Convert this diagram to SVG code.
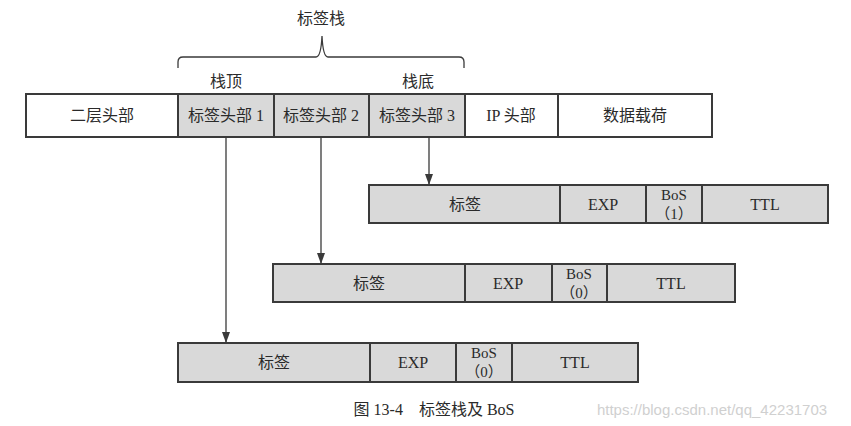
<svg xmlns="http://www.w3.org/2000/svg" width="851" height="426" viewBox="0 0 851 426">
<defs>
<style>
.box{stroke:#3a3a3a;stroke-width:2;}
.w{fill:#ffffff;}
.g{fill:#d9d9d9;}
text{font-family:"Liberation Serif","Noto Sans CJK SC",serif;font-size:16px;fill:#2a2a2a;text-anchor:middle;}
.sm{font-size:15px;}
.ln{stroke:#3a3a3a;stroke-width:1.3;fill:none;}
</style>
<marker id="ah" markerWidth="11" markerHeight="8" refX="10" refY="4" orient="auto" markerUnits="userSpaceOnUse">
<path d="M0,0 L11,4 L0,8 Z" fill="#3a3a3a"/>
</marker>
</defs>
<rect width="851" height="426" fill="#ffffff"/>

<g id="stack-label">
<text x="321" y="24">标签栈</text>
<path class="ln" d="M178,68 V62 Q178,57 183,57 H316 Q321,57 322,36 Q323,57 328,57 H459 Q464,57 464,62 V68"/>
<text x="226" y="87">栈顶</text>
<text x="418" y="87">栈底</text>
</g>

<g id="packet">
<rect class="box w" x="26" y="94" width="152" height="43"/>
<text x="102" y="121">二层头部</text>
<rect class="box g" x="178" y="94" width="96" height="43"/>
<text x="226" y="121">标签头部 1</text>
<rect class="box g" x="274" y="94" width="95" height="43"/>
<text x="321" y="121">标签头部 2</text>
<rect class="box g" x="369" y="94" width="96" height="43"/>
<text x="417" y="121">标签头部 3</text>
<rect class="box w" x="465" y="94" width="93" height="43"/>
<text x="511" y="121">IP 头部</text>
<rect class="box w" x="558" y="94" width="154" height="43"/>
<text x="635" y="121">数据载荷</text>
</g>

<g id="connectors">
<line class="ln" x1="429" y1="137" x2="429" y2="184" marker-end="url(#ah)"/>
<line class="ln" x1="321" y1="137" x2="321" y2="263" marker-end="url(#ah)"/>
<line class="ln" x1="226" y1="137" x2="226" y2="342" marker-end="url(#ah)"/>
</g>

<g id="label3">
<rect class="box g" x="369" y="185" width="191" height="38"/>
<text x="465" y="210">标签</text>
<rect class="box g" x="560" y="185" width="86" height="38"/>
<text x="603" y="210">EXP</text>
<rect class="box g" x="646" y="185" width="56" height="38"/>
<text x="674" y="200" class="sm">BoS</text>
<text x="674" y="219" class="sm">（1）</text>
<rect class="box g" x="702" y="185" width="126" height="38"/>
<text x="765" y="210">TTL</text>
</g>

<g id="label2">
<rect class="box g" x="273" y="264" width="192" height="38"/>
<text x="369" y="289">标签</text>
<rect class="box g" x="465" y="264" width="87" height="38"/>
<text x="508" y="289">EXP</text>
<rect class="box g" x="552" y="264" width="55" height="38"/>
<text x="579" y="279" class="sm">BoS</text>
<text x="579" y="298" class="sm">（0）</text>
<rect class="box g" x="607" y="264" width="128" height="38"/>
<text x="671" y="289">TTL</text>
</g>

<g id="label1">
<rect class="box g" x="178" y="343" width="192" height="39"/>
<text x="274" y="368">标签</text>
<rect class="box g" x="370" y="343" width="86" height="39"/>
<text x="413" y="368">EXP</text>
<rect class="box g" x="456" y="343" width="56" height="39"/>
<text x="484" y="358" class="sm">BoS</text>
<text x="484" y="377" class="sm">（0）</text>
<rect class="box g" x="512" y="343" width="126" height="39"/>
<text x="575" y="368">TTL</text>
</g>

<g id="caption">
<text x="434" y="415" font-size="17">图 13-4　标签栈及 BoS</text>
<text x="712" y="415" style="font-family:'Liberation Sans',sans-serif;font-size:15px;fill:#d0d0d0">https://blog.csdn.net/qq_42231703</text>
</g>
</svg>
